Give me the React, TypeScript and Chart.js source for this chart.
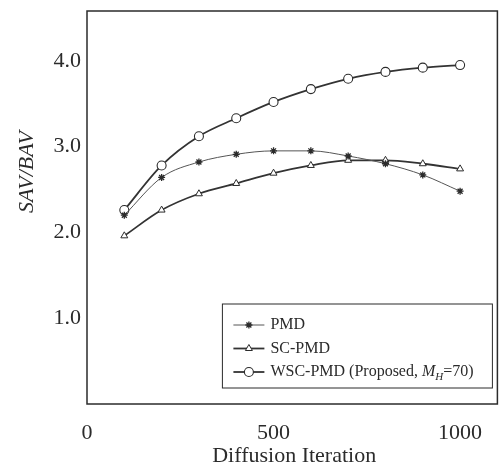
import React, { useEffect, useRef } from "react";
import { Chart, registerables } from "chart.js";
Chart.register(...registerables);

const iterations = [100, 200, 300, 400, 500, 600, 700, 800, 900, 1000];
const pmd = [2.2, 2.64, 2.82, 2.91, 2.95, 2.95, 2.89, 2.8, 2.67, 2.48];
const scPmd = [1.96, 2.26, 2.45, 2.57, 2.69, 2.78, 2.84, 2.84, 2.8, 2.74];
const wscPmd = [2.26, 2.78, 3.12, 3.33, 3.52, 3.67, 3.79, 3.87, 3.92, 3.95];
const yTicks = [1, 2, 3, 4];
const xTicks = [0, 500, 1000];
const xTitle = "Diffusion Iteration";
const yTitle = "SAV/BAV";

const SERIF = "'Liberation Serif', 'Times New Roman', serif";
const INK = "#2b2b2b";

const framePlugin = {
  id: "frame",
  afterDatasetsDraw(chart: any) {
    const { ctx, chartArea: a } = chart;
    ctx.save();
    ctx.strokeStyle = INK;
    ctx.lineWidth = 1.5;
    ctx.strokeRect(a.left, a.top, a.right - a.left, a.bottom - a.top);
    ctx.restore();
  },
};

const titlesPlugin = {
  id: "titles",
  afterDraw(chart: any) {
    const { ctx, chartArea: a } = chart;
    ctx.save();
    ctx.fillStyle = INK;
    ctx.textAlign = "center";
    ctx.textBaseline = "middle";
    ctx.font = `22px ${SERIF}`;
    ctx.fillText(xTitle, (a.left + a.right) / 2 + 2, 456);
    ctx.translate(27, 172);
    ctx.rotate(-Math.PI / 2);
    ctx.font = `italic 22px ${SERIF}`;
    ctx.fillText(yTitle, 0, 0);
    ctx.restore();
  },
};

function drawMarker(ctx: CanvasRenderingContext2D, style: string, r: number, x: number, y: number) {
  ctx.beginPath();
  if (style === "circle") {
    ctx.arc(x, y, r, 0, Math.PI * 2);
    ctx.fill();
    ctx.stroke();
  } else if (style === "triangle") {
    ctx.moveTo(x, y - r);
    ctx.lineTo(x + r * 0.87, y + r * 0.5);
    ctx.lineTo(x - r * 0.87, y + r * 0.5);
    ctx.closePath();
    ctx.fill();
    ctx.stroke();
  } else {
    for (let k = 0; k < 4; k++) {
      const ang = (k * Math.PI) / 4;
      ctx.moveTo(x - r * Math.cos(ang), y - r * Math.sin(ang));
      ctx.lineTo(x + r * Math.cos(ang), y + r * Math.sin(ang));
    }
    ctx.stroke();
  }
}

const legendPlugin = {
  id: "boxLegend",
  afterDraw(chart: any) {
    const { ctx, chartArea: a } = chart;
    const left = a.right - 275;
    const top = a.bottom - 100;
    const w = 270;
    const h = 84;
    ctx.save();
    ctx.fillStyle = "#fff";
    ctx.fillRect(left, top, w, h);
    ctx.strokeStyle = INK;
    ctx.lineWidth = 1;
    ctx.strokeRect(left, top, w, h);
    chart.data.datasets.forEach((ds: any, i: number) => {
      const cy = top + 21 + i * 23.5;
      const x0 = left + 11;
      const x1 = left + 42;
      ctx.strokeStyle = ds.borderColor;
      ctx.lineWidth = ds.borderWidth;
      ctx.beginPath();
      ctx.moveTo(x0, cy);
      ctx.lineTo(x1, cy);
      ctx.stroke();
      ctx.fillStyle = "#fff";
      ctx.strokeStyle = INK;
      ctx.lineWidth = ds.pointBorderWidth;
      drawMarker(ctx, ds.pointStyle, ds.pointRadius, (x0 + x1) / 2, cy);
      ctx.fillStyle = INK;
      ctx.textBaseline = "middle";
      ctx.textAlign = "left";
      ctx.font = `16px ${SERIF}`;
      let tx = x1 + 6;
      const parts: string[] = ds.legendParts;
      ctx.fillText(parts[0], tx, cy);
      if (parts.length > 1) {
        tx += ctx.measureText(parts[0]).width;
        ctx.font = `italic 16px ${SERIF}`;
        ctx.fillText(parts[1], tx, cy);
        tx += ctx.measureText(parts[1]).width;
        ctx.font = `italic 11px ${SERIF}`;
        ctx.fillText(parts[2], tx, cy + 5);
        tx += ctx.measureText(parts[2]).width;
        ctx.font = `16px ${SERIF}`;
        ctx.fillText(parts[3], tx, cy);
      }
    });
    ctx.restore();
  },
};

export default function App() {
  const ref = useRef<HTMLCanvasElement | null>(null);
  useEffect(() => {
    if (!ref.current) return;
    const mk = (vals: number[]) => iterations.map((x, i) => ({ x, y: vals[i] }));
    const chart = new Chart(ref.current, {
      type: "line",
      data: {
        datasets: [
          {
            label: "PMD",
            legendParts: ["PMD"],
            data: mk(pmd),
            borderColor: "#555",
            borderWidth: 1,
            pointStyle: "star",
            pointRadius: 3.5,
            pointBorderWidth: 1.3,
            pointBackgroundColor: "#fff",
            pointBorderColor: INK,
            cubicInterpolationMode: "monotone",
          } as any,
          {
            label: "SC-PMD",
            legendParts: ["SC-PMD"],
            data: mk(scPmd),
            borderColor: "#333",
            borderWidth: 1.8,
            pointStyle: "triangle",
            pointRadius: 4,
            pointBorderWidth: 1,
            pointBackgroundColor: "#fff",
            pointBorderColor: INK,
            cubicInterpolationMode: "monotone",
          } as any,
          {
            label: "WSC-PMD (Proposed, M_H=70)",
            legendParts: ["WSC-PMD (Proposed, ", "M", "H", "=70)"],
            data: mk(wscPmd),
            borderColor: "#333",
            borderWidth: 1.8,
            pointStyle: "circle",
            pointRadius: 4.5,
            pointBorderWidth: 1.1,
            pointBackgroundColor: "#fff",
            pointBorderColor: INK,
            cubicInterpolationMode: "monotone",
          } as any,
        ],
      },
      options: {
        animation: false,
        responsive: true,
        maintainAspectRatio: false,
        layout: { padding: { top: 11, right: 0, left: 0, bottom: 0 } },
        plugins: { legend: { display: false }, tooltip: { enabled: false } },
        scales: {
          x: {
            type: "linear",
            min: 0,
            max: 1100,
            afterBuildTicks: (s: any) => {
              s.ticks = xTicks.map((v) => ({ value: v }));
            },
            afterFit: (s: any) => {
              s.height = 66;
              s.paddingLeft = 0;
              s.paddingRight = 0;
            },
            ticks: {
              font: { family: SERIF, size: 22 },
              color: INK,
              padding: 16,
              maxRotation: 0,
              autoSkip: false,
              callback: (v: any) => String(v),
            },
            grid: { display: false, drawTicks: false },
            border: { display: false },
          },
          y: {
            type: "linear",
            min: 0,
            max: 4.58,
            afterBuildTicks: (s: any) => {
              s.ticks = yTicks.map((v) => ({ value: v }));
            },
            afterFit: (s: any) => {
              s.width = 87;
              s.paddingTop = 0;
              s.paddingBottom = 0;
            },
            ticks: {
              font: { family: SERIF, size: 22 },
              color: INK,
              padding: 6,
              callback: (v: any) => Number(v).toFixed(1),
            },
            grid: { display: false, drawTicks: false },
            border: { display: false },
          },
        },
      } as any,
      plugins: [framePlugin, titlesPlugin, legendPlugin],
    });
    return () => chart.destroy();
  }, []);
  return (
    <div style={{ position: "fixed", left: 0, top: 0, width: 503, height: 470, background: "#fff" }}>
      <canvas ref={ref} />
    </div>
  );
}
